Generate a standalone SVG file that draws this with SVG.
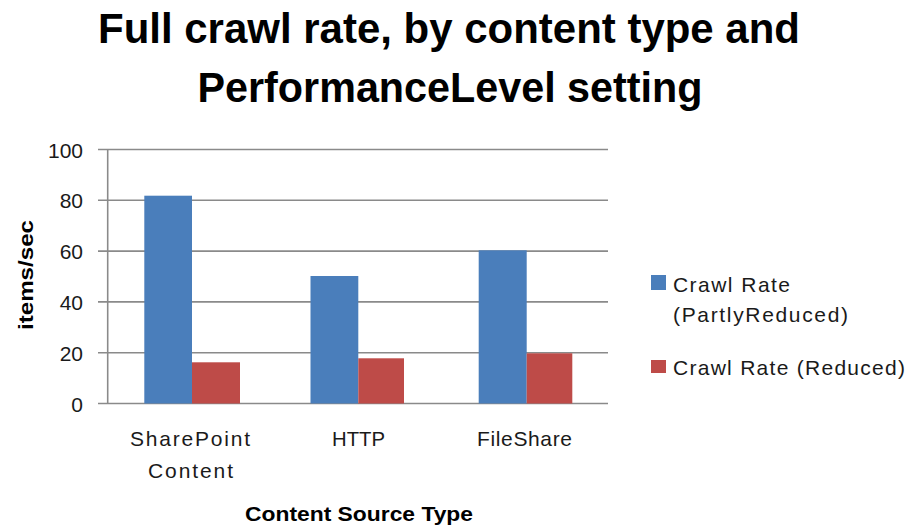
<svg xmlns="http://www.w3.org/2000/svg" width="911" height="529" viewBox="0 0 911 529">
  <style>
    .title { font-family: "Liberation Sans", Arial, sans-serif; font-weight: bold; font-size: 42px; fill: #000; text-anchor: middle; }
    .lbl { font-family: "Liberation Sans", Arial, sans-serif; font-size: 21px; fill: #1a1a1a; }
    .axt { font-family: "Liberation Sans", Arial, sans-serif; font-weight: bold; font-size: 20px; fill: #000; text-anchor: middle; }
    .num { text-anchor: end; }
    .mid { text-anchor: middle; }
    .grid { stroke: #8a8a8a; stroke-width: 1.6; fill: none; }
    .s1 { fill: #4a7ebb; }
    .s2 { fill: #be4b48; }
  </style>

  <rect width="911" height="529" fill="#ffffff"/>

  <!-- Chart title -->
  <g id="title">
    <text class="title" x="449" y="43" textLength="702" lengthAdjust="spacingAndGlyphs">Full crawl rate, by content type and</text>
    <text class="title" x="450" y="102" textLength="505" lengthAdjust="spacingAndGlyphs">PerformanceLevel setting</text>
  </g>

  <!-- Gridlines and value axis -->
  <g id="axes">
    <path class="grid" d="M98 149.5H608 M98 200.3H608 M98 251.1H608 M98 301.9H608 M98 352.7H608 M98 403.5H608"/>
    <path class="grid" d="M107.7 149.5V403.5"/>
  </g>

  <!-- Value axis labels -->
  <g id="y-labels" class="lbl num">
    <text x="83" y="157.5">100</text>
    <text x="83" y="208.3">80</text>
    <text x="83" y="259.1">60</text>
    <text x="83" y="309.9">40</text>
    <text x="83" y="360.7">20</text>
    <text x="83" y="411.5">0</text>
  </g>
  <text id="y-title" class="axt" transform="translate(33 275) rotate(-90)" textLength="110" lengthAdjust="spacingAndGlyphs">items/sec</text>

  <!-- Bars: Crawl Rate (PartlyReduced) -->
  <g id="series-partly">
    <rect class="s1" x="144.3" y="195.7" width="47.7" height="207.8"/>
    <rect class="s1" x="310.5" y="276" width="47.8" height="127.5"/>
    <rect class="s1" x="478.7" y="250.3" width="48" height="153.2"/>
  </g>

  <!-- Bars: Crawl Rate (Reduced) -->
  <g id="series-reduced">
    <rect class="s2" x="192" y="362.3" width="48" height="41.2"/>
    <rect class="s2" x="358.3" y="358.3" width="45.7" height="45.2"/>
    <rect class="s2" x="526.7" y="353.3" width="45.6" height="50.2"/>
  </g>

  <!-- Category axis labels -->
  <g id="x-labels" class="lbl mid">
    <text x="190" y="446" textLength="120" lengthAdjust="spacing">SharePoint</text>
    <text x="190.5" y="478" textLength="85" lengthAdjust="spacing">Content</text>
    <text x="358.5" y="446" textLength="53" lengthAdjust="spacingAndGlyphs">HTTP</text>
    <text x="524.5" y="446" textLength="95" lengthAdjust="spacing">FileShare</text>
  </g>
  <text id="x-title" class="axt" x="359" y="521" textLength="228" lengthAdjust="spacingAndGlyphs">Content Source Type</text>

  <!-- Legend -->
  <g id="legend">
    <g id="legend-partly">
      <rect class="s1" x="651" y="275" width="15" height="15"/>
      <text class="lbl" x="673" y="292" textLength="117" lengthAdjust="spacing">Crawl Rate</text>
      <text class="lbl" x="673" y="322" textLength="175" lengthAdjust="spacing">(PartlyReduced)</text>
    </g>
    <g id="legend-reduced">
      <rect class="s2" x="651" y="360" width="15" height="13"/>
      <text class="lbl" x="673" y="375" textLength="232" lengthAdjust="spacing">Crawl Rate (Reduced)</text>
    </g>
  </g>
</svg>
